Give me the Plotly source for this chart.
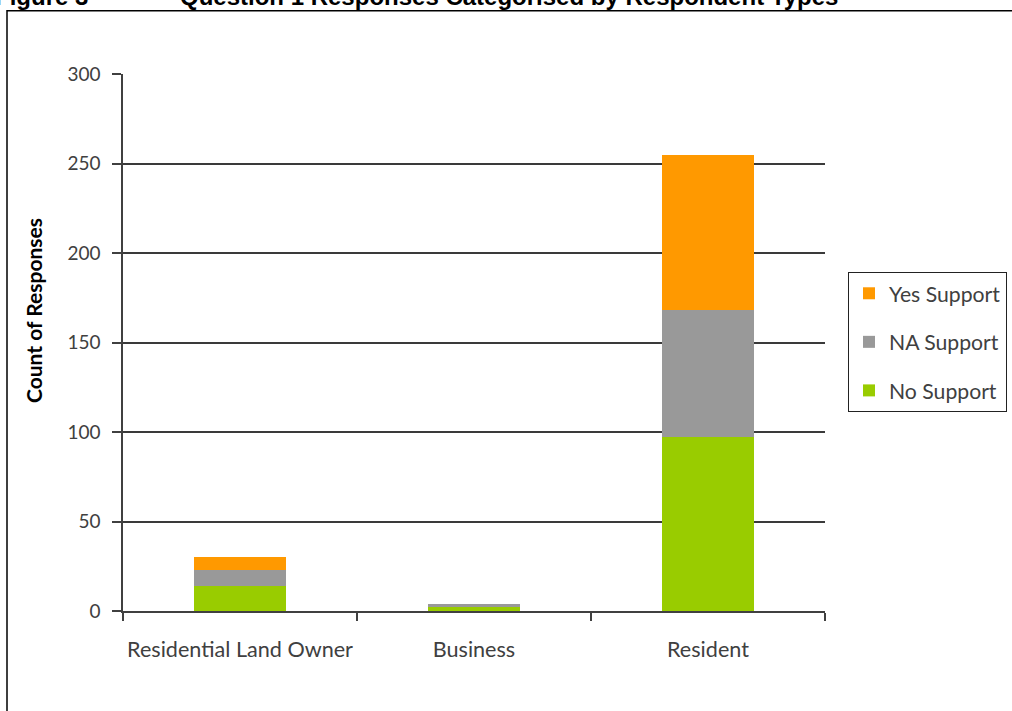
import plotly.graph_objects as go

categories = ["Residential Land Owner", "Business", "Resident"]
no_support = [14, 2, 97]
na_support = [9, 2, 71]
yes_support = [7, 0, 87]
y_ticks = [0, 50, 100, 150, 200, 250, 300]

FONT = "Lato"
AX = "#404040"

fig = go.Figure()
fig.add_trace(go.Bar(x=categories, y=no_support, name="No Support", legendrank=3,
                     marker=dict(color="#99CC00", line=dict(width=0)), legendgroup="c"))
fig.add_trace(go.Bar(x=categories, y=na_support, name="NA Support", legendrank=2,
                     marker=dict(color="#999999", line=dict(width=0)), legendgroup="b"))
fig.add_trace(go.Bar(x=categories, y=yes_support, name="Yes Support", legendrank=1,
                     marker=dict(color="#FF9900", line=dict(width=0)), legendgroup="a"))

W, H = 1012, 711
L, R, T, B = 123, 187, 74, 100
pw, ph = W - L - R, H - T - B

def px(x):
    return (x - L) / pw

def py(y):
    return (H - B - y) / ph

fig.update_layout(
    width=W, height=H,
    margin=dict(l=L, r=R, t=T, b=B, autoexpand=False),
    barmode="stack", bargap=0.607,
    paper_bgcolor="white", plot_bgcolor="white",
    font=dict(family=FONT, size=19, color=AX),
    showlegend=True,
    legend=dict(x=px(848), y=py(272), xanchor="left", yanchor="top",
                bordercolor="#222222", borderwidth=1, bgcolor="white",
                traceorder="grouped", tracegroupgap=18,
                font=dict(family=FONT, size=21.2, color="#404040")),
    xaxis=dict(type="category", range=[-0.5, 2.5], tickson="boundaries",
               ticks="outside", ticklen=8, tickwidth=1.5, tickcolor=AX, tickangle=0,
               showline=True, linecolor=AX, linewidth=1.5, showgrid=False,
               ticklabelstandoff=18, tickfont=dict(family=FONT, size=21.6, color=AX)),
    yaxis=dict(range=[0, 300], tickvals=y_ticks, ticks="outside", ticklen=9,
               tickwidth=1.5, tickcolor=AX, showline=True, linecolor=AX, linewidth=1.5,
               showgrid=True, gridcolor="#3a3a3a", gridwidth=1.5, zeroline=False,
               ticklabelstandoff=8, tickfont=dict(family=FONT, size=19, color=AX)),
)

fig.add_annotation(text="<b>Count of Responses</b>", textangle=-90, xref="paper", yref="paper",
                   x=px(33), y=py(311), xanchor="center", yanchor="middle", showarrow=False,
                   font=dict(family=FONT, size=21, color="black"))

fig.add_annotation(text="<b>Figure 3</b>", xref="paper", yref="paper",
                   x=px(90), y=py(12), xanchor="right", yanchor="bottom", showarrow=False,
                   font=dict(family="Liberation Sans", size=24, color="black"))
fig.add_annotation(text="<b>Question 1 Responses Categorised by Respondent Types</b>",
                   xref="paper", yref="paper",
                   x=px(178), y=py(12), xanchor="left", yanchor="bottom", showarrow=False,
                   font=dict(family="Liberation Sans", size=24, color="black"))

fig.add_shape(type="rect", xref="paper", yref="paper",
              x0=px(7), x1=px(1100), y0=py(800), y1=py(10.7),
              line=dict(color="black", width=1.5), fillcolor="rgba(0,0,0,0)", layer="below")

fig.write_html("out.html", config={"displayModeBar": False},
               post_script="document.body.style.margin='0';")
